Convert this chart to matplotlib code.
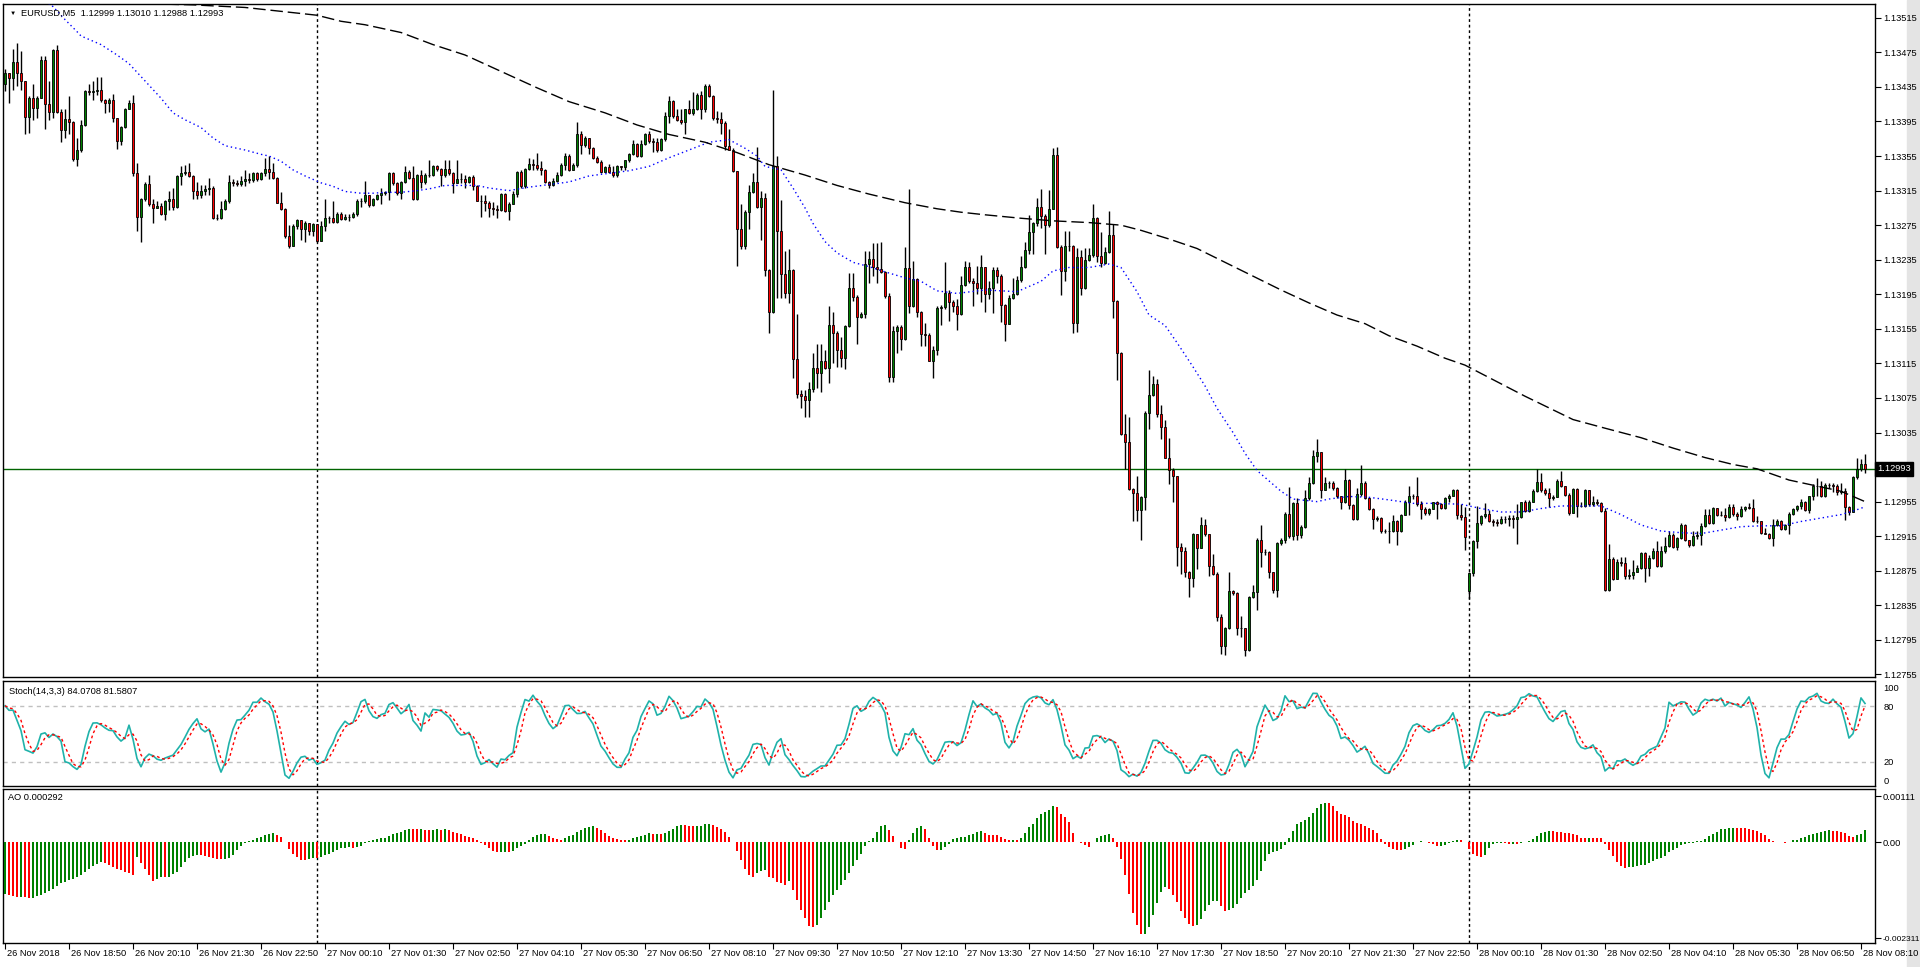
import numpy as np
import pandas as pd
import matplotlib
matplotlib.use("Agg")
import matplotlib.pyplot as plt
from matplotlib import transforms

plt.rcParams['font.family'] = ['Liberation Sans', 'DejaVu Sans']

symbol_title = "EURUSD,M5  1.12999 1.13010 1.12988 1.12993"
stoch_title = "Stoch(14,3,3) 84.0708 81.5807"
ao_title = "AO 0.000292"
first_bar_time = "2018-11-26 17:30"
bid_price = 1.12993

# quotes in points above 1.10000  (3451 -> 1.13451), one value per M5 bar
close_pts = [
    3451, 3445, 3464, 3451, 3442, 3400, 3422, 3411, 3422, 3466,
    3415, 3406, 3478, 3406, 3385, 3398, 3394, 3352, 3362, 3391,
    3430, 3429, 3430, 3431, 3420, 3416, 3420, 3399, 3373, 3389,
    3410, 3416, 3335, 3285, 3305, 3323, 3299, 3295, 3297, 3288,
    3303, 3305, 3296, 3332, 3335, 3337, 3332, 3314, 3310, 3314,
    3317, 3318, 3283, 3283, 3294, 3303, 3325, 3324, 3323, 3326,
    3328, 3327, 3335, 3328, 3335, 3340, 3336, 3330, 3301, 3294,
    3262, 3251, 3274, 3281, 3271, 3277, 3268, 3276, 3257, 3274,
    3283, 3283, 3279, 3288, 3282, 3285, 3285, 3288, 3303, 3303,
    3310, 3298, 3305, 3310, 3312, 3313, 3335, 3324, 3312, 3325,
    3336, 3330, 3305, 3333, 3325, 3333, 3333, 3344, 3340, 3333,
    3340, 3335, 3324, 3328, 3329, 3325, 3331, 3320, 3303,
    3303, 3301, 3295, 3294, 3292, 3311, 3291, 3300, 3311, 3336,
    3320, 3340, 3346, 3345, 3341, 3339, 3325, 3321, 3326, 3333,
    3345, 3355, 3339, 3345, 3380, 3368, 3376, 3364, 3353, 3348,
    3337, 3342, 3337, 3333, 3344, 3342, 3350, 3357, 3369, 3355,
    3369, 3380, 3372, 3371, 3362, 3375, 3401, 3419, 3401, 3397,
    3394, 3409, 3405, 3409, 3426, 3409, 3436, 3425, 3399, 3398,
    3393, 3367, 3362, 3338, 3270, 3251, 3290, 3313, 3325, 3296,
    3306, 3223, 3175, 3343, 3268, 3218, 3196, 3223, 3120, 3079,
    3077, 3073, 3085, 3110, 3104, 3118, 3110, 3160, 3150, 3131,
    3121, 3158, 3202, 3192, 3169, 3172, 3230, 3236, 3227, 3224,
    3221, 3193, 3099, 3152, 3157, 3143, 3225, 3182, 3213, 3175,
    3149, 3148, 3118, 3130, 3179, 3180, 3196, 3186, 3182, 3172,
    3206, 3227, 3210, 3208, 3202, 3226, 3195, 3202, 3223, 3216,
    3183, 3161, 3191, 3195, 3211, 3226, 3246, 3267, 3277, 3296,
    3286, 3275, 3294, 3356, 3250, 3222, 3251, 3251, 3162, 3238,
    3202, 3235, 3241, 3283, 3239, 3231, 3244, 3264, 3187, 3127,
    3033, 3024, 2970, 2965, 2945, 2960, 3058, 3078, 3091, 3056,
    3041, 3006, 2992, 2985, 2903, 2898, 2873, 2867, 2917, 2901,
    2928, 2917, 2881, 2871, 2821, 2788, 2809, 2851, 2849, 2809,
    2809, 2783, 2845, 2850, 2911, 2897, 2897, 2873, 2853, 2907,
    2911, 2941, 2915, 2953, 2916, 2926, 2959, 2976, 3008, 3012,
    2969, 2976, 2976, 2971, 2961, 2954, 2980, 2951, 2935, 2964,
    2976, 2959, 2947, 2935, 2936, 2921, 2921, 2921, 2933, 2921,
    2940, 2955, 2962, 2961, 2952, 2947, 2942, 2947, 2954, 2952,
    2948, 2959, 2962,
    2969, 2940, 2937, 2914, 2872, 2909, 2930, 2938, 2941, 2932,
    2931, 2930, 2935, 2935, 2936, 2935, 2937, 2954, 2944, 2955,
    2967, 2978, 2968, 2965, 2959, 2960, 2979, 2973, 2963, 2942,
    2970, 2950, 2950, 2968, 2952, 2954, 2953, 2944, 2853, 2889,
    2865, 2885, 2884, 2869, 2870, 2874, 2878, 2896, 2878, 2890,
    2898, 2880, 2898, 2904, 2916, 2903, 2913, 2928, 2910, 2905,
    2915, 2916, 2927, 2939, 2930, 2948, 2940, 2940, 2937, 2949,
    2941, 2938, 2946, 2949, 2948, 2932, 2932, 2919, 2918, 2913,
    2928, 2933, 2923, 2928, 2941, 2946, 2950, 2955, 2945, 2961,
    2973, 2973, 2961, 2974, 2974, 2973, 2966, 2967, 2949, 2943,
    2984, 2993, 2999, 2993,
]
high_pts = [
    3456, 3451, 3479, 3486, 3477, 3442, 3424, 3438, 3424, 3471,
    3471, 3442, 3479, 3483, 3410, 3410, 3425, 3395, 3376, 3397,
    3432, 3438, 3442, 3447, 3447, 3421, 3422, 3427, 3399, 3390,
    3411, 3420, 3426, 3347, 3306, 3325, 3333, 3305, 3303, 3301,
    3304, 3314, 3318, 3333, 3344, 3345, 3347, 3333, 3325, 3322,
    3322, 3330, 3320, 3288, 3303, 3305, 3333, 3328, 3327, 3332,
    3339, 3335, 3337, 3337, 3337, 3353, 3355, 3347, 3331, 3313,
    3295, 3275, 3276, 3282, 3280, 3280, 3276, 3277, 3266, 3280,
    3305, 3286, 3303, 3290, 3290, 3288, 3288, 3290, 3305, 3306,
    3326, 3310, 3306, 3311, 3318, 3315, 3336, 3336, 3325, 3326,
    3343, 3339, 3343, 3334, 3339, 3335, 3351, 3345, 3345, 3341,
    3351, 3351, 3336, 3351, 3335, 3333, 3332, 3333, 3321,
    3310, 3310, 3303, 3302, 3298, 3312, 3312, 3302, 3314, 3338,
    3339, 3341, 3353, 3352, 3358, 3349, 3340, 3326, 3330, 3337,
    3347, 3358, 3357, 3347, 3394, 3384, 3378, 3376, 3365, 3355,
    3350, 3344, 3346, 3343, 3345, 3344, 3351, 3359, 3374, 3370,
    3374, 3382, 3384, 3376, 3376, 3376, 3406, 3425, 3420, 3409,
    3409, 3410, 3420, 3429, 3428, 3430, 3438, 3438, 3426, 3407,
    3406, 3395, 3386, 3364, 3338, 3299, 3293, 3322, 3335, 3365,
    3314, 3312, 3224, 3431, 3355, 3304, 3245, 3247, 3224, 3172,
    3084, 3084, 3094, 3127, 3137, 3138, 3131, 3182, 3175, 3152,
    3146, 3160, 3220, 3220, 3194, 3174, 3245, 3245, 3254, 3254,
    3256, 3222, 3196, 3158, 3160, 3160, 3250, 3317, 3233, 3214,
    3176, 3162, 3150, 3135, 3181, 3183, 3232, 3200, 3188, 3189,
    3216, 3234, 3232, 3214, 3228, 3240, 3226, 3210, 3226, 3227,
    3218, 3184, 3194, 3214, 3216, 3239, 3256, 3287, 3279, 3307,
    3317, 3288, 3316, 3364, 3366, 3252, 3268, 3268, 3252, 3248,
    3246, 3248, 3248, 3299, 3284, 3267, 3250, 3291, 3276, 3188,
    3128, 3056, 3053, 2971, 2985, 2961, 3060, 3107, 3100, 3097,
    3067, 3049, 3029, 2994, 2985, 2907, 2903, 2875, 2919, 2905,
    2937, 2935, 2918, 2894, 2873, 2825, 2810, 2873, 2853, 2850,
    2823, 2809, 2846, 2859, 2913, 2928, 2900, 2898, 2874, 2908,
    2913, 2943, 2972, 2955, 2959, 2928, 2969, 2983, 3015, 3028,
    3013, 2983, 2979, 2979, 2972, 2962, 2993, 2981, 2952, 2971,
    2997, 2979, 2960, 2948, 2938, 2937, 2923, 2931, 2939, 2934,
    2941, 2957, 2973, 2964, 2983, 2956, 2949, 2948, 2955, 2956,
    2953, 2960, 2964,
    2970, 2970, 2952, 2949, 2874, 2911, 2950, 2940, 2953, 2945,
    2935, 2935, 2938, 2938, 2940, 2940, 2952, 2955, 2957, 2957,
    2970, 2993, 2988, 2971, 2971, 2963, 2981, 2990, 2973, 2965,
    2971, 2971, 2954, 2970, 2969, 2961, 2958, 2955, 2948, 2906,
    2891, 2889, 2891, 2891, 2877, 2888, 2882, 2897, 2897, 2893,
    2901, 2909, 2904, 2914, 2921, 2919, 2914, 2930, 2929, 2911,
    2921, 2921, 2930, 2946, 2947, 2949, 2948, 2944, 2948, 2952,
    2952, 2943, 2950, 2950, 2953, 2958, 2938, 2933, 2925, 2919,
    2935, 2935, 2934, 2929, 2943, 2948, 2951, 2958, 2956, 2962,
    2975, 2982, 2979, 2977, 2976, 2976, 2975, 2977, 2971, 2950,
    2985, 3006, 3004, 3010,
]
low_pts = [
    3430, 3416, 3432, 3436, 3432, 3380, 3382, 3397, 3399, 3422,
    3386, 3397, 3399, 3405, 3371, 3376, 3380, 3349, 3343, 3360,
    3390, 3426, 3420, 3426, 3418, 3405, 3406, 3394, 3363, 3368,
    3388, 3409, 3332, 3268, 3255, 3303, 3297, 3277, 3295, 3287,
    3281, 3293, 3292, 3295, 3321, 3333, 3331, 3305, 3305, 3306,
    3310, 3310, 3282, 3281, 3282, 3292, 3301, 3320, 3320, 3320,
    3320, 3324, 3325, 3326, 3327, 3332, 3328, 3329, 3301, 3293,
    3260, 3249, 3251, 3270, 3258, 3256, 3264, 3262, 3256, 3264,
    3268, 3278, 3277, 3278, 3281, 3281, 3280, 3283, 3286, 3296,
    3301, 3296, 3297, 3304, 3299, 3310, 3304, 3322, 3310, 3305,
    3324, 3328, 3304, 3304, 3318, 3323, 3331, 3332, 3338, 3320,
    3331, 3333, 3312, 3324, 3324, 3318, 3324, 3316, 3303,
    3285, 3291, 3285, 3287, 3283, 3291, 3290, 3281, 3299, 3308,
    3318, 3318, 3339, 3339, 3339, 3333, 3324, 3318, 3320, 3325,
    3332, 3339, 3338, 3339, 3342, 3357, 3366, 3357, 3352, 3347,
    3335, 3337, 3335, 3331, 3331, 3339, 3339, 3348, 3356, 3354,
    3354, 3368, 3370, 3360, 3360, 3361, 3373, 3393, 3399, 3395,
    3392, 3380, 3404, 3403, 3408, 3398, 3406, 3423, 3397, 3393,
    3380, 3362, 3362, 3337, 3228, 3247, 3247, 3270, 3312, 3295,
    3258, 3216, 3150, 3173, 3191, 3191, 3191, 3185, 3098, 3075,
    3063, 3053, 3053, 3082, 3086, 3082, 3108, 3092, 3115, 3111,
    3111, 3108, 3157, 3187, 3138, 3167, 3168, 3208, 3216, 3208,
    3220, 3191, 3093, 3093, 3127, 3131, 3142, 3173, 3180, 3169,
    3135, 3135, 3118, 3098, 3125, 3160, 3178, 3164, 3174, 3154,
    3171, 3205, 3208, 3181, 3195, 3186, 3175, 3190, 3173, 3208,
    3163, 3141, 3161, 3189, 3194, 3209, 3225, 3242, 3242, 3274,
    3272, 3242, 3273, 3294, 3249, 3194, 3210, 3245, 3150, 3151,
    3194, 3201, 3234, 3238, 3232, 3226, 3230, 3243, 3167, 3096,
    3032, 2993, 2969, 2933, 2933, 2911, 2945, 3039, 3077, 3053,
    3028, 3005, 2975, 2955, 2880, 2871, 2868, 2845, 2856, 2877,
    2902, 2915, 2869, 2870, 2817, 2779, 2778, 2807, 2847, 2801,
    2798, 2776, 2782, 2844, 2829, 2879, 2893, 2867, 2849, 2845,
    2905, 2907, 2913, 2911, 2911, 2913, 2924, 2957, 2975, 3001,
    2959, 2968, 2971, 2968, 2959, 2947, 2953, 2947, 2934, 2934,
    2961, 2958, 2945, 2923, 2933, 2919, 2919, 2907, 2920, 2905,
    2920, 2940, 2939, 2958, 2950, 2935, 2940, 2940, 2946, 2935,
    2946, 2947, 2955,
    2961, 2935, 2934, 2899, 2842, 2869, 2901, 2928, 2936, 2931,
    2927, 2927, 2929, 2930, 2927, 2925, 2906, 2936, 2943, 2943,
    2954, 2966, 2966, 2963, 2949, 2957, 2960, 2972, 2962, 2939,
    2942, 2937, 2949, 2949, 2950, 2950, 2951, 2943, 2852, 2852,
    2864, 2866, 2880, 2865, 2866, 2866, 2873, 2877, 2862, 2869,
    2889, 2879, 2879, 2896, 2903, 2901, 2899, 2912, 2909, 2903,
    2904, 2912, 2905, 2926, 2929, 2929, 2938, 2938, 2932, 2936,
    2938, 2934, 2937, 2944, 2946, 2931, 2930, 2918, 2917, 2912,
    2904, 2927, 2922, 2922, 2918, 2940, 2944, 2947, 2944, 2942,
    2957, 2961, 2960, 2960, 2971, 2966, 2963, 2964, 2934, 2940,
    2944, 2981, 2990, 2988,
]
first_open_pts = 3438
gap_open_pts = {366: 2852}   # midnight spread gap

# moving averages (bar index, points)
ma_fast_bar = [10, 12, 15, 18, 19, 24, 28, 31, 35, 39, 42, 45, 49, 52, 55, 60, 64, 66, 69, 72,
               75, 79, 82, 85, 89, 92, 95, 99, 103, 106, 110, 114, 118, 121, 126, 131, 136, 141,
               146, 151, 156, 161, 166, 171, 176, 181, 185, 188, 190, 194, 197, 200, 202, 205,
               208, 212, 216, 220, 225, 229, 233, 238, 245, 253, 259, 262, 266, 271, 276, 279,
               283, 286, 290, 293, 297, 300, 303, 307, 310, 313, 316, 319, 322, 328, 331, 336,
               341, 346, 352, 357, 364, 369, 374, 379, 384, 389, 394, 399, 404, 409, 414, 419,
               424, 429, 434, 439, 444, 449, 454, 459, 462, 465]
ma_fast_pts = [3535, 3528, 3513, 3499, 3494, 3484, 3472, 3462, 3442, 3422, 3405, 3397, 3388, 3376,
               3367, 3362, 3357, 3355, 3349, 3339, 3332, 3324, 3320, 3314, 3312, 3312, 3313, 3313,
               3315, 3317, 3321, 3321, 3321, 3318, 3315, 3319, 3322, 3325, 3332, 3335, 3338, 3343,
               3353, 3362, 3371, 3374, 3364, 3355, 3343, 3339, 3318, 3295, 3277, 3256, 3243, 3232,
               3227, 3221, 3214, 3210, 3199, 3196, 3200, 3198, 3210, 3222, 3226, 3226, 3230, 3226,
               3198, 3171, 3159, 3139, 3111, 3089, 3063, 3035, 3011, 2991, 2979, 2967, 2958, 2955,
               2958, 2961, 2960, 2957, 2953, 2953, 2952, 2947, 2943, 2943, 2947, 2950, 2950, 2950,
               2940, 2928, 2921, 2919, 2918, 2922, 2926, 2927, 2927, 2932, 2936, 2940, 2944, 2949]
ma_slow_bar = [10, 30, 47, 60, 72, 78, 84, 90, 99, 107, 115, 124, 133, 141, 150, 158, 166, 175,
               183, 191, 200, 208, 216, 225, 233, 239, 245, 254, 262, 271, 279, 284, 291, 298,
               305, 312, 319, 326, 333, 340, 346, 353, 360, 365, 380, 392, 400, 409, 417, 425,
               432, 438, 446, 452, 459, 465]
ma_slow_pts = [3534, 3532, 3530, 3527, 3521, 3518, 3511, 3507, 3498, 3484, 3472, 3453, 3434, 3418,
               3405, 3391, 3380, 3371, 3359, 3345, 3333, 3321, 3311, 3301, 3294, 3290, 3287, 3283,
               3280, 3278, 3275, 3269, 3259, 3248, 3232, 3216, 3200, 3185, 3171, 3161, 3147, 3135,
               3121, 3113, 3077, 3050, 3040, 3029, 3017, 3006, 2998, 2993, 2980, 2974, 2967, 2955]

# AO values for the first 33 bars (before 34 bars of history exist)
ao_head = [-0.00125, -0.00128, -0.00130, -0.00133, -0.00131, -0.00133, -0.00135, -0.00134,
           -0.00130, -0.00128, -0.00122, -0.00118, -0.00112, -0.00105, -0.00098, -0.00095,
           -0.00092, -0.00090, -0.00085, -0.00080, -0.00072, -0.00065, -0.00058, -0.00052,
           -0.00048, -0.00050, -0.00055, -0.00060, -0.00064, -0.00068, -0.00072, -0.00075,
           -0.00080]

price_ticks = np.round(1.12755 + 0.0004 * np.arange(20), 5)

n = len(close_pts)
assert len(high_pts) == n and len(low_pts) == n

c = 1.1 + np.array(close_pts) / 1e5
h = 1.1 + np.array(high_pts) / 1e5
l = 1.1 + np.array(low_pts) / 1e5
o = np.r_[1.1 + first_open_pts / 1e5, c[:-1]]
for k, v in gap_open_pts.items():
    o[k] = 1.1 + v / 1e5
h = np.maximum(h, np.maximum(o, c))
l = np.minimum(l, np.minimum(o, c))
idx = np.arange(n)
times = pd.date_range(first_bar_time, periods=n, freq="5min")

# stochastic 14,3,3
df = pd.DataFrame({"h": h, "l": l, "c": c})
hh = df.h.rolling(14, min_periods=1).max()
ll = df.l.rolling(14, min_periods=1).min()
num = (df.c - ll).rolling(3, min_periods=1).sum()
den = (hh - ll).rolling(3, min_periods=1).sum()
stoch_k = (100 * num / den).fillna(50)
stoch_d = stoch_k.rolling(3, min_periods=1).mean()

# awesome oscillator
med = (df.h + df.l) / 2
ao = (med.rolling(5).mean() - med.rolling(34).mean()).values
ao[:len(ao_head)] = ao_head
ao_up = np.r_[True, ao[1:] > ao[:-1]]

W, H = 1920, 967


def px_box(left, top, right, bottom):
    return [left / W, 1 - bottom / H, (right - left) / W, (bottom - top) / H]


fig = plt.figure(figsize=(19.2, 9.67), dpi=100)
ax_p = fig.add_axes(px_box(3, 4, 1875, 677))
ax_s = fig.add_axes(px_box(3, 681, 1875, 786))
ax_a = fig.add_axes(px_box(3, 789, 1875, 943))

fs = 6.7
for a in (ax_p, ax_s, ax_a):
    a.set_xlim(-0.5, 467.5)
    a.yaxis.tick_right()
    a.tick_params(axis="y", direction="out", length=4, width=0.8, labelsize=fs, pad=2)
    a.tick_params(axis="x", bottom=False, labelbottom=False)
    for sp in a.spines.values():
        sp.set_color("black")
        sp.set_linewidth(1)
    for s in np.where((times.hour == 0) & (times.minute == 0))[0]:
        a.axvline(s, color="black", lw=1, ls=(0, (2, 2)), zorder=1)

# price panel
up = c >= o
ax_p.vlines(idx, l, h, color="black", lw=1, zorder=2)
ax_p.bar(idx[up], (c - o)[up], bottom=o[up], width=0.72, color="#008000",
         edgecolor="black", lw=0.6, zorder=3)
ax_p.bar(idx[~up], (o - c)[~up], bottom=c[~up], width=0.72, color="#ff0000",
         edgecolor="black", lw=0.6, zorder=3)
ax_p.plot(ma_fast_bar, 1.1 + np.array(ma_fast_pts) / 1e5, color="blue", lw=1,
          ls=(0, (1, 2.2)), zorder=4)
ax_p.plot(ma_slow_bar, 1.1 + np.array(ma_slow_pts) / 1e5, color="black", lw=1,
          ls=(0, (9, 3.5)), zorder=4)
ax_p.axhline(bid_price, color="#006400", lw=1, zorder=1)
ax_p.set_ylim(1.12752, 1.13531)
shown = [t for t in price_ticks if abs(t - bid_price) > 0.0001]
ax_p.set_yticks(shown)
ax_p.set_yticklabels(["%.5f" % t for t in shown])
bid_trans = transforms.offset_copy(ax_p.get_yaxis_transform(), fig=fig, x=2, y=0, units="dots")
ax_p.text(1.0, bid_price, "%.5f" % bid_price, transform=bid_trans, color="white",
          fontsize=fs, va="center", ha="left", zorder=10,
          bbox=dict(boxstyle="square,pad=0.25", fc="black", ec="black"))

# stochastic panel
ax_s.axhline(20, color="#c0c0c0", lw=1, ls=(0, (3, 3)), zorder=1)
ax_s.axhline(80, color="#c0c0c0", lw=1, ls=(0, (3, 3)), zorder=1)
ax_s.plot(idx, stoch_k, color="#20b2aa", lw=1.2, zorder=3)
ax_s.plot(idx, stoch_d, color="red", lw=1, ls=(0, (2, 2)), zorder=3)
ax_s.set_ylim(-6.5, 107.6)
ax_s.set_yticks([0, 20, 80, 100])
ax_s.set_yticklabels(["0", "20", "80", "100"])
ax_s.tick_params(axis="y", length=0, pad=6)

# AO panel
ax_a.bar(idx[ao_up], ao[ao_up], width=0.55, color="#008000", zorder=3)
ax_a.bar(idx[~ao_up], ao[~ao_up], width=0.55, color="#ff0000", zorder=3)
ax_a.set_ylim(-0.00243, 0.00128)
ax_a.set_yticks([-0.002311, 0.0, 0.00111])
ax_a.set_yticklabels(["-0.002311", "0.00", "0.00111"])
ax_a.tick_params(axis="y", pad=1.5)
ax_a.get_yticklabels()[0].set_fontsize(6.0)

tick_idx = np.arange(0, n, 16)
ax_a.set_xticks(tick_idx)
ax_a.tick_params(axis="x", bottom=True, direction="out", length=4, width=0.8, labelbottom=False)
lab_trans = transforms.offset_copy(ax_a.get_xaxis_transform(), fig=fig, x=2, y=-6, units="dots")
for i in tick_idx:
    t = times[i]
    lab = t.strftime("%d %b %Y") if i == 0 else t.strftime("%d %b %H:%M")
    ax_a.text(i, 0, lab, transform=lab_trans, fontsize=fs, ha="left", va="top")

# panel titles
fig.text(10 / W, 1 - 13 / H, "\u25bc", fontsize=4.5, va="center", ha="left")
fig.text(21 / W, 1 - 13 / H, symbol_title, fontsize=fs, va="center", ha="left")
fig.text(9 / W, 1 - 691 / H, stoch_title, fontsize=fs, va="center", ha="left")
fig.text(8 / W, 1 - 797 / H, ao_title, fontsize=fs, va="center", ha="left")

fig.patches.append(plt.Rectangle((1907 / W, 0), 13 / W, 1, transform=fig.transFigure,
                                 color="#e4e4e4", zorder=-1))

fig.savefig("out.png", dpi=100)
